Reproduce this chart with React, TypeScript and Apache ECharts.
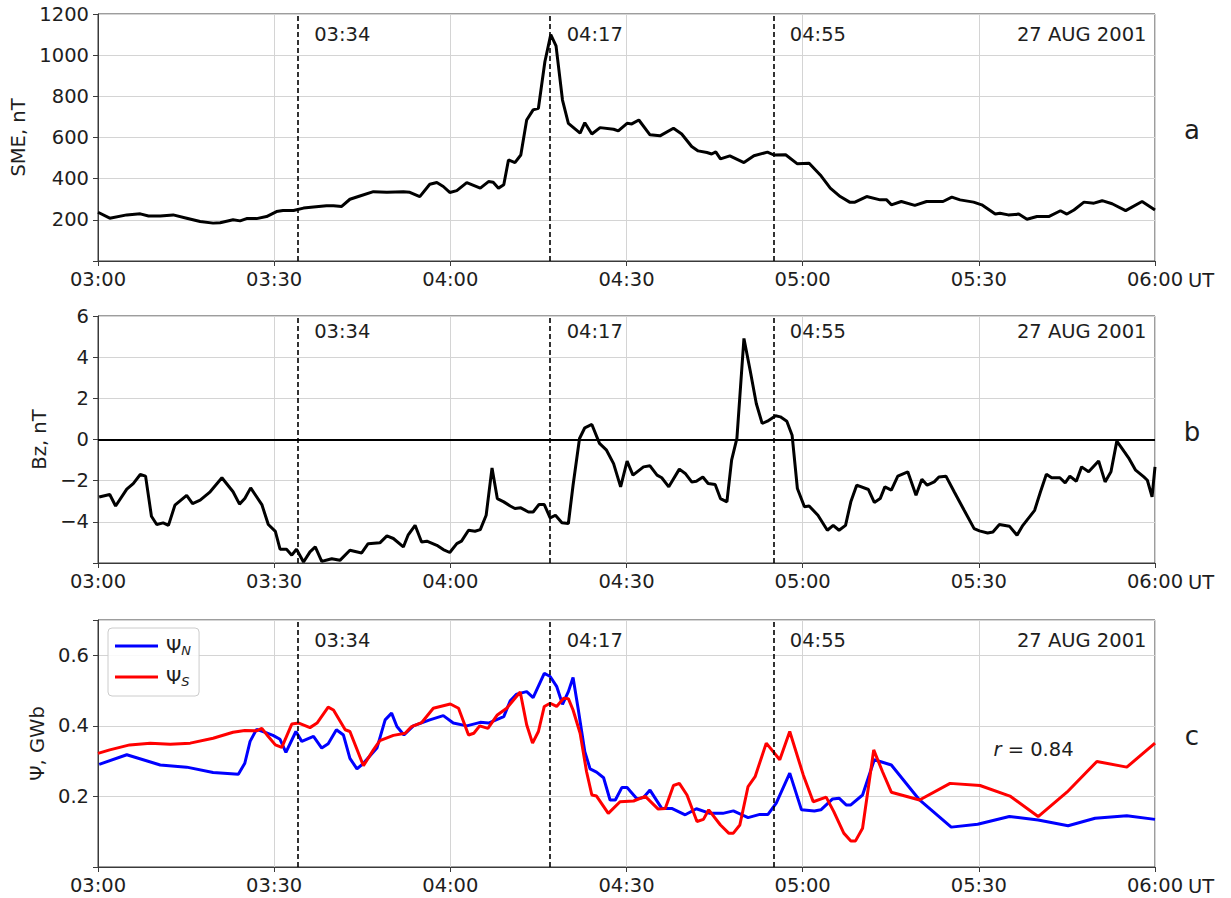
import React, { useEffect, useRef } from "react";
import * as echarts from "echarts";

// Time axis: minutes after 03:00 UT
const xTickLabels = ["03:00", "03:30", "04:00", "04:30", "05:00", "05:30", "06:00"];
const eventMin = [34, 77, 115];
const eventLabels = ["03:34", "04:17", "04:55"];
const dateLabel = "27 AUG 2001";
const panelLetters = ["a", "b", "c"];
const corrLabel = "0.84";

// SME index, nT
const smeMin = [0, 2, 4.9, 7.2, 8.6, 10.6, 12.8, 15.1, 17.4, 19.6, 20.8, 23, 24.2, 25.3, 27, 28.7, 30.4, 31.5, 33.3, 35, 36.7, 38.9, 40.1, 41.5, 42.9, 44.6, 46.9, 49.2, 52, 53.1, 54.8, 56.5, 57.7, 58.8, 59.9, 61.1, 62.8, 65.1, 66.5, 67.3, 68.2, 69.1, 69.9, 71, 72, 73, 74.1, 75, 76.1, 77.1, 78, 79.1, 80.1, 82.1, 82.9, 84.1, 85.5, 87.8, 88.6, 90.1, 90.9, 92.1, 94, 95.7, 98, 99.4, 101.1, 102.2, 103.7, 104.5, 105.2, 106, 107.6, 110, 111.7, 114, 115.1, 117.1, 119.1, 121.1, 123, 124.7, 126.4, 128, 128.9, 130.9, 133.2, 134.3, 135.1, 136.8, 139.1, 141.1, 143.9, 145.4, 146.8, 149.1, 150.5, 152.8, 153.6, 155, 156.8, 158.2, 159.9, 161.9, 163.9, 165, 166.2, 167.9, 169.6, 171, 172.7, 175, 177.8, 180];
const smeVal = [237, 208, 224, 229, 219, 219, 224, 208, 192, 184, 186, 200, 195, 206, 206, 216, 240, 245, 245, 257, 262, 268, 268, 265, 300, 316, 337, 334, 337, 334, 313, 373, 381, 362, 333, 342, 381, 354, 386, 383, 354, 370, 491, 478, 515, 685, 734, 742, 968, 1100, 1045, 782, 669, 621, 672, 617, 648, 640, 632, 669, 666, 685, 613, 608, 645, 617, 556, 535, 527, 520, 530, 496, 511, 478, 511, 529, 515, 516, 472, 475, 418, 354, 313, 286, 286, 313, 297, 297, 273, 289, 270, 289, 289, 310, 297, 286, 273, 228, 232, 224, 228, 203, 216, 216, 244, 228, 248, 286, 281, 293, 278, 245, 289, 248];

// IMF Bz, nT
const bzMin = [0.2, 2, 3, 4.9, 6, 7.2, 8.1, 9.1, 10, 11.1, 12, 13.1, 15.1, 16.1, 17.4, 19.1, 21.1, 23, 24.1, 25, 26, 27.9, 29, 30.2, 31, 32.1, 33, 33.8, 35, 36.1, 37, 38.1, 39.8, 41.2, 42.9, 44.9, 46, 48, 49.2, 50.3, 52, 52.8, 54, 55.1, 56, 57.7, 58.8, 59.9, 61.1, 61.9, 63.1, 64.2, 65.1, 66.1, 67.1, 68, 69.1, 70.2, 71, 72, 73.3, 74.1, 75.1, 76, 77, 77.9, 79, 80.1, 80.9, 82, 82.9, 84.1, 85.4, 86.6, 87.8, 89, 90.1, 91.1, 92.9, 94, 95.2, 96, 97.2, 99, 100, 101.1, 101.9, 103, 103.9, 105.1, 106, 107.1, 107.9, 108.8, 110, 111.1, 112.1, 113.1, 114, 115.4, 116.2, 117.3, 118.2, 119.1, 120.3, 121.1, 122.6, 124.2, 125.2, 126.2, 127.3, 128.2, 129.2, 131.2, 132.2, 133.2, 134, 135.1, 136.2, 137.9, 139.3, 140.3, 141.2, 142.4, 143.2, 144.4, 145.8, 147.5, 149.2, 150.1, 151.5, 152.4, 153.5, 155.2, 156.5, 157.5, 159.5, 160.5, 161.5, 162.4, 163.8, 164.7, 165.5, 166.6, 167.5, 168.7, 170.4, 171.5, 172.5, 173.5, 174.7, 175.5, 176.7, 178.1, 178.7, 179.5, 180];
const bzVal = [-2.79, -2.67, -3.23, -2.41, -2.14, -1.7, -1.78, -3.73, -4.13, -4.05, -4.17, -3.19, -2.71, -3.11, -2.95, -2.54, -1.86, -2.54, -3.14, -2.87, -2.35, -3.16, -4.13, -4.46, -5.33, -5.33, -5.62, -5.33, -5.95, -5.46, -5.22, -5.92, -5.79, -5.87, -5.38, -5.51, -5.06, -5.02, -4.68, -4.81, -5.22, -4.65, -4.17, -4.98, -4.94, -5.14, -5.35, -5.49, -5.06, -4.94, -4.41, -4.46, -4.38, -3.68, -1.38, -2.87, -3.03, -3.23, -3.35, -3.32, -3.52, -3.52, -3.16, -3.16, -3.81, -3.68, -4.04, -4.08, -2.22, 0.05, 0.57, 0.73, -0.19, -0.52, -1.17, -2.3, -1.05, -1.73, -1.33, -1.28, -1.73, -1.86, -2.3, -1.44, -1.65, -2.06, -2.03, -1.82, -2.14, -2.19, -2.87, -3.03, -1.0, 0.05, 4.91, 3.29, 1.75, 0.78, 0.89, 1.15, 1.1, 0.89, 0.21, -2.38, -3.27, -3.23, -3.68, -4.41, -4.17, -4.41, -4.17, -3.03, -2.22, -2.43, -3.06, -2.87, -2.3, -2.46, -1.78, -1.57, -2.71, -1.93, -2.22, -2.06, -1.82, -1.78, -2.54, -3.44, -4.33, -4.44, -4.54, -4.49, -4.13, -4.21, -4.65, -4.17, -3.44, -2.54, -1.69, -1.86, -1.86, -2.11, -1.78, -2.03, -1.33, -1.57, -1.04, -2.06, -1.57, -0.08, -0.57, -0.89, -1.49, -1.82, -1.98, -2.79, -1.33];

// Open magnetic flux, GWb: northern hemisphere
const psiNMin = [0.2, 4.9, 10.6, 15.1, 19.6, 23.9, 25, 25.9, 27, 28.7, 29.8, 31, 32, 33.7, 34.7, 36.7, 38.1, 39.2, 40.6, 41.8, 42.9, 44.1, 45.2, 47.5, 48.9, 50, 50.9, 52.1, 53.7, 56.5, 58.8, 60.5, 62.8, 65.1, 66.5, 69.1, 70.2, 71.3, 73, 74.1, 76, 77, 78.1, 79.1, 80.1, 80.9, 81.8, 82.9, 83.8, 84.9, 86.1, 87.2, 88.1, 89.2, 90.1, 91.8, 92.9, 94, 96, 97.7, 100, 101.9, 104.2, 106.4, 108.2, 110.7, 112.7, 114.1, 115.5, 117.8, 119.8, 122, 123.1, 125.1, 126.2, 127.4, 128.2, 130.2, 132.2, 135.1, 139.9, 145.3, 149.8, 155.2, 160.1, 165.2, 169.8, 175.2, 180];
const psiNVal = [0.291, 0.318, 0.289, 0.283, 0.268, 0.263, 0.294, 0.356, 0.39, 0.38, 0.373, 0.362, 0.325, 0.384, 0.356, 0.37, 0.337, 0.349, 0.389, 0.374, 0.308, 0.278, 0.294, 0.337, 0.417, 0.436, 0.398, 0.374, 0.4, 0.417, 0.429, 0.408, 0.4, 0.41, 0.408, 0.426, 0.471, 0.49, 0.497, 0.48, 0.549, 0.54, 0.512, 0.461, 0.497, 0.537, 0.445, 0.327, 0.278, 0.269, 0.253, 0.19, 0.19, 0.225, 0.225, 0.193, 0.197, 0.218, 0.166, 0.166, 0.148, 0.165, 0.152, 0.152, 0.159, 0.14, 0.149, 0.149, 0.181, 0.266, 0.162, 0.159, 0.162, 0.193, 0.195, 0.176, 0.176, 0.204, 0.304, 0.289, 0.19, 0.113, 0.121, 0.143, 0.133, 0.117, 0.138, 0.145, 0.135];

// Open magnetic flux, GWb: southern hemisphere
const psiSMin = [0, 2, 5.4, 8.9, 12.3, 15.7, 19.6, 23, 25, 27, 27.9, 29, 30.2, 31.3, 33, 34.2, 36.1, 37.3, 39.2, 40.1, 42.1, 42.9, 45.2, 46.9, 48, 50.3, 52.3, 53.4, 55.1, 57.1, 60, 61.4, 63.1, 64, 65, 66.4, 68, 69.6, 70.8, 71.9, 73, 74, 75, 76, 77, 78.1, 79.3, 80.1, 80.9, 82.1, 83.2, 84.1, 84.9, 86.9, 88.9, 91.2, 93.2, 95.4, 96.6, 98, 99, 100.3, 102, 103.1, 104, 106, 107.4, 108.2, 109.3, 110.7, 111.9, 113.8, 116.1, 117.8, 120.1, 121.8, 124, 125.3, 127, 128.2, 129, 130.2, 132.1, 133.6, 135.1, 139.9, 145.1, 150.2, 155.3, 160.1, 165, 170.1, 175.2, 180];
const psiSVal = [0.322, 0.332, 0.346, 0.351, 0.348, 0.351, 0.365, 0.382, 0.387, 0.386, 0.393, 0.37, 0.346, 0.339, 0.405, 0.408, 0.395, 0.408, 0.453, 0.445, 0.389, 0.384, 0.287, 0.332, 0.358, 0.373, 0.379, 0.398, 0.409, 0.45, 0.462, 0.45, 0.374, 0.379, 0.4, 0.393, 0.431, 0.45, 0.474, 0.496, 0.403, 0.351, 0.384, 0.455, 0.464, 0.455, 0.478, 0.477, 0.445, 0.379, 0.27, 0.204, 0.201, 0.152, 0.185, 0.187, 0.2, 0.164, 0.166, 0.231, 0.237, 0.204, 0.129, 0.135, 0.162, 0.119, 0.096, 0.096, 0.119, 0.228, 0.256, 0.351, 0.304, 0.384, 0.261, 0.185, 0.198, 0.157, 0.096, 0.074, 0.074, 0.11, 0.332, 0.27, 0.212, 0.19, 0.237, 0.231, 0.201, 0.143, 0.212, 0.299, 0.283, 0.351];

const FONT = '"DejaVu Sans", sans-serif';
const TEXT = "#1e1e1e";
const SPINE = "#3a3a3a";
const GRIDLINE = "#d4d4d4";
const FS = 19.5;

const pairs = (t: number[], v: number[]) => t.map((m, i) => [m, v[i]]);

const panels = [
  { top: 14, height: 247, min: 0, max: 1200, interval: 200, name: "SME, nT", nameGap: 70, labelY: 1099 },
  { top: 316, height: 247, min: -6, max: 6, interval: 2, name: "Bz, nT", nameGap: 48, labelY: 5.23 },
  { top: 620, height: 247, min: 0, max: 0.7, interval: 0.2, name: "Ψ, GWb", nameGap: 50, labelY: 0.641 },
];

function yLabel(i: number, v: number): string {
  if (i === 0) return v === 0 ? "" : String(v);
  if (i === 1) return v === -6 ? "" : v < 0 ? "\u2212" + Math.abs(v) : String(v);
  if (v < 0.1 || v > 0.65) return "";
  return v.toFixed(1);
}

function buildOption() {
  const grid = panels.map((p) => ({
    left: 98,
    right: 76,
    top: p.top,
    height: p.height,
    show: true,
    borderColor: SPINE,
    borderWidth: 1,
    backgroundColor: "transparent",
  }));

  const xAxis = panels.map((_, i) => ({
    type: "value",
    gridIndex: i,
    min: 0,
    max: 180,
    interval: 30,
    axisLine: { show: true, onZero: false, lineStyle: { color: SPINE, width: 1 } },
    axisTick: { show: true, length: 5, lineStyle: { color: SPINE } },
    axisLabel: {
      formatter: (v: number) => xTickLabels[Math.round(v / 30)] ?? "",
      fontSize: FS,
      fontFamily: FONT,
      color: TEXT,
      margin: 8,
      showMinLabel: true,
      showMaxLabel: true,
    },
    splitLine: { show: true, lineStyle: { color: GRIDLINE, width: 1 } },
  }));

  const yAxis = panels.map((p, i) => ({
    type: "value",
    gridIndex: i,
    min: p.min,
    max: p.max,
    interval: p.interval,
    name: p.name,
    nameLocation: "middle",
    nameGap: p.nameGap,
    nameTextStyle: { fontSize: FS, fontFamily: FONT, color: TEXT },
    axisLine: { show: true, onZero: false, lineStyle: { color: SPINE, width: 1 } },
    axisTick: { show: true, length: 5, lineStyle: { color: SPINE } },
    axisLabel: {
      formatter: (v: number) => yLabel(i, v),
      fontSize: FS,
      fontFamily: FONT,
      color: TEXT,
      margin: 9,
    },
    splitLine: { show: true, lineStyle: { color: GRIDLINE, width: 1 } },
  }));

  const eventLines = eventMin.map((t) => ({ xAxis: t }));
  const markLine = (extra: any[] = []) => ({
    symbol: "none",
    silent: true,
    animation: false,
    label: { show: false },
    lineStyle: { type: [5, 3], color: "#000", width: 1.6 },
    data: [...eventLines, ...extra],
  });

  const lineBase = { type: "line", showSymbol: false, symbol: "none", silent: true, z: 3 };

  const series: any[] = [
    {
      ...lineBase,
      name: "SME",
      xAxisIndex: 0,
      yAxisIndex: 0,
      data: pairs(smeMin, smeVal),
      lineStyle: { color: "#000", width: 3 },
      itemStyle: { color: "#000" },
      markLine: markLine(),
    },
    {
      ...lineBase,
      name: "Bz",
      xAxisIndex: 1,
      yAxisIndex: 1,
      data: pairs(bzMin, bzVal),
      lineStyle: { color: "#000", width: 3 },
      itemStyle: { color: "#000" },
      markLine: markLine([{ yAxis: 0, lineStyle: { type: "solid", width: 2, color: "#000" } }]),
    },
    {
      ...lineBase,
      name: "ΨN",
      xAxisIndex: 2,
      yAxisIndex: 2,
      data: pairs(psiNMin, psiNVal),
      lineStyle: { color: "#0000ff", width: 3 },
      itemStyle: { color: "#0000ff" },
      markLine: markLine(),
    },
    {
      ...lineBase,
      name: "ΨS",
      xAxisIndex: 2,
      yAxisIndex: 2,
      data: pairs(psiSMin, psiSVal),
      lineStyle: { color: "#ff0000", width: 3 },
      itemStyle: { color: "#ff0000" },
    },
  ];

  const hiddenDot = { color: "rgba(0,0,0,0)", opacity: 1 };

  // Event times and date captions along the top of each panel
  panels.forEach((p, i) => {
    const pts: any[] = eventMin.map((t, k) => ({
      value: [t, p.labelY],
      label: { formatter: eventLabels[k], position: "right", distance: 16 },
    }));
    pts.push({
      value: [180, p.labelY],
      label: { formatter: dateLabel, position: "left", distance: 8 },
    });
    series.push({
      type: "scatter",
      xAxisIndex: i,
      yAxisIndex: i,
      silent: true,
      symbolSize: 1,
      itemStyle: hiddenDot,
      label: { show: true, fontSize: FS, fontFamily: FONT, color: TEXT, opacity: 1 },
      data: pts,
      z: 5,
    });
  });

  // Correlation coefficient caption in panel c
  series.push({
    type: "scatter",
    xAxisIndex: 2,
    yAxisIndex: 2,
    silent: true,
    symbolSize: 1,
    itemStyle: hiddenDot,
    label: {
      show: true,
      position: "right",
      distance: 0,
      opacity: 1,
      formatter: "{i|r} = " + corrLabel,
      fontSize: FS,
      fontFamily: FONT,
      color: TEXT,
      rich: { i: { fontStyle: "italic", fontSize: FS, fontFamily: FONT, color: TEXT } },
    },
    data: [[152.4, 0.334]],
    z: 5,
  });

  const graphic: any[] = [];
  panels.forEach((p, i) => {
    graphic.push({
      type: "text",
      x: 1192,
      y: p.top + p.height / 2 - 8,
      silent: true,
      style: {
        text: panelLetters[i],
        font: `26px ${FONT}`,
        fill: TEXT,
        align: "center",
        verticalAlign: "middle",
      },
    });
    graphic.push({
      type: "text",
      x: 1188,
      y: p.top + p.height + 19,
      silent: true,
      style: {
        text: "UT",
        font: `${FS}px ${FONT}`,
        fill: TEXT,
        align: "left",
        verticalAlign: "middle",
      },
    });
  });

  return {
    animation: false,
    backgroundColor: "#ffffff",
    grid,
    xAxis,
    yAxis,
    series,
    graphic,
    legend: {
      show: true,
      data: ["ΨN", "ΨS"],
      orient: "vertical",
      left: 108,
      top: 628,
      padding: [7, 8, 8, 7],
      itemGap: 9,
      itemWidth: 43,
      itemHeight: 3,
      icon: "rect",
      borderColor: "#cccccc",
      borderWidth: 1,
      borderRadius: 4,
      backgroundColor: "rgba(255,255,255,0.85)",
      selectedMode: false,
      formatter: (name: string) => `{p|Ψ}{s|${name.slice(1)}}`,
      textStyle: {
        fontFamily: FONT,
        fontSize: FS,
        color: TEXT,
        lineHeight: 22,
        padding: [0, 0, 0, 3],
        rich: {
          p: { fontSize: FS, fontFamily: FONT, color: TEXT, lineHeight: 22 },
          s: { fontSize: 13, fontFamily: FONT, fontStyle: "italic", color: TEXT, verticalAlign: "bottom", lineHeight: 16 },
        },
      },
    },
  };
}

export default function App() {
  const ref = useRef<HTMLDivElement>(null);
  useEffect(() => {
    if (!ref.current) return;
    const chart = echarts.init(ref.current, undefined, { renderer: "svg" });
    chart.setOption(buildOption() as any);
    return () => chart.dispose();
  }, []);
  return (
    <div
      ref={ref}
      style={{ position: "fixed", left: 0, top: 0, width: 1231, height: 898, background: "#fff" }}
    />
  );
}
